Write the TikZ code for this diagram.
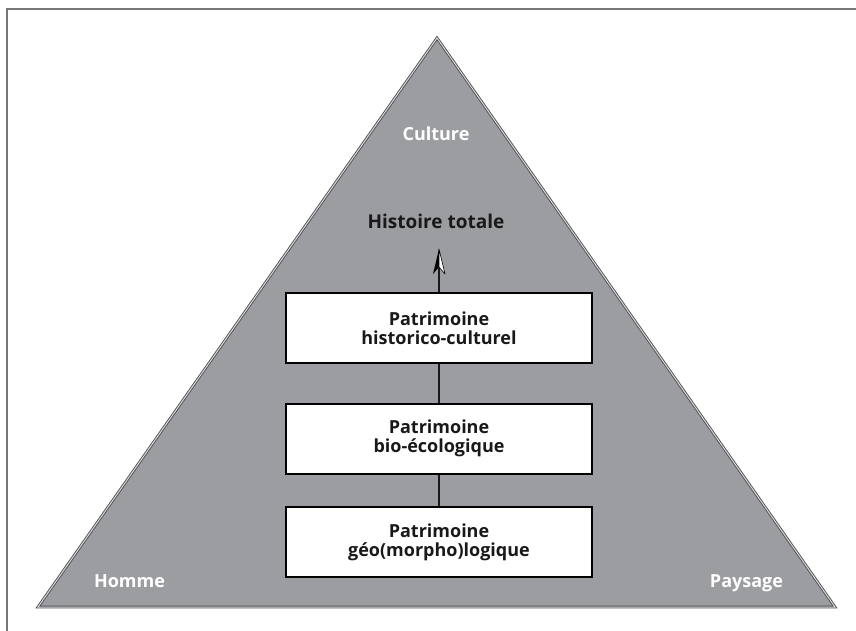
\documentclass[tikz,border=0pt]{standalone}
\usepackage{fontspec}
\setmainfont{Open Sans}
\definecolor{pyr}{HTML}{9C9DA1}
\definecolor{edge}{HTML}{505052}
\definecolor{framegray}{HTML}{777777}
\tikzset{
  pbox/.style={draw=black, line width=2pt, fill=white, minimum width=306pt, minimum height=70pt, inner sep=0pt, align=center, font=\fontsize{18}{19}\selectfont\bfseries, text=black!90},
  conn/.style={line width=2pt, draw=black!90},
  wlabel/.style={text=white, font=\fontsize{18}{20}\selectfont\bfseries, anchor=base, inner sep=0pt},
  blabel/.style={text=black!90, font=\fontsize{19}{21}\selectfont\bfseries, anchor=base, inner sep=0pt}
}
\begin{document}
\begin{tikzpicture}[x=1pt,y=-1pt]
\useasboundingbox (0,0) rectangle (856,631);
% open frame
\draw[framegray, line width=1.2pt] (7,631) -- (7,9) -- (856,9);
% pyramid
\draw[fill=pyr, draw=edge, line width=0.9pt, double=pyr!40!white, double distance=1pt, line join=miter]
  (437,38) -- (835,607) -- (38,607) -- cycle;
% labels
\node[wlabel] (culture) at (436,141) {Culture};
\node[blabel] (hist) at (436,228) {Histoire totale};
\node[wlabel] (homme) at (129.5,587) {Homme};
\node[wlabel] (paysage) at (746.5,587) {Paysage};
% boxes
\node[pbox] (b1) at (439,328) {Patrimoine\\historico-culturel};
\node[pbox] (b2) at (439,438.5) {Patrimoine\\bio-écologique};
\node[pbox] (b3) at (439,542) {Patrimoine\\géo(morpho)logique};
% connectors
\draw[conn] (b3.north) -- (b2.south);
\draw[conn] (b2.north) -- (b1.south);
\coordinate (tip) at (439,249);
\coordinate (notch) at (439,267);
\draw[conn] (b1.north) -- (notch);
% arrow head (half dark, half white)
\fill[black] (tip) -- (433,274) -- (notch) -- cycle;
\filldraw[fill=white, draw=black, line width=0.6pt, line join=round] (tip) -- (445,274) -- (notch) -- cycle;
\end{tikzpicture}
\end{document}
